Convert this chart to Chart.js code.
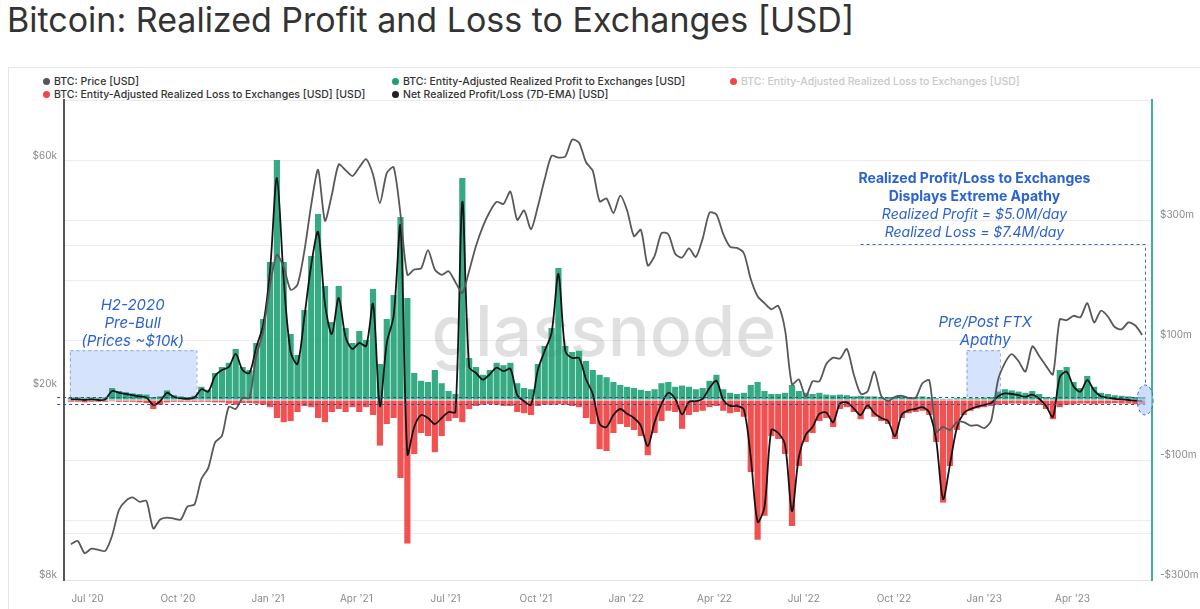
<!DOCTYPE html>
<html>
<head>
<meta charset="utf-8">
<script src="https://cdn.jsdelivr.net/npm/chart.js@4.4.0/dist/chart.umd.min.js"></script>
<style>
  body { margin:0; width:1200px; height:609px; background:#fff; overflow:hidden; position:relative; font-family:Inter, "Noto Sans", sans-serif; }
  #title { position:absolute; left:7px; top:0px; font-size:34px; line-height:40px; color:#333; white-space:nowrap; }
  #card { position:absolute; left:8px; top:67px; width:1300px; height:600px; border-left:1px solid #e6e6e6; border-top:1px solid #e6e6e6; }
  .lg { position:absolute; font-size:10.5px; font-weight:500; color:#333; white-space:nowrap; line-height:14px; }
  .lg i { display:inline-block; width:7px; height:7px; border-radius:50%; margin-right:4px; vertical-align:0px; }
  .lg.off { color:#c8c8c8; }
  canvas { position:absolute; left:0; top:0; }
</style>
</head>
<body>
<div id="title">Bitcoin: Realized Profit and Loss to Exchanges [USD]</div>
<div id="card"></div>
<div class="lg" style="left:43px;top:75px"><i style="background:#555"></i>BTC: Price [USD]</div>
<div class="lg" style="left:392px;top:75px"><i style="background:#1f9e76"></i>BTC: Entity-Adjusted Realized Profit to Exchanges [USD]</div>
<div class="lg off" style="left:730px;top:75px"><i style="background:#f04848"></i>BTC: Entity-Adjusted Realized Loss to Exchanges [USD]</div>
<div class="lg" style="left:43px;top:88px"><i style="background:#f04848"></i>BTC: Entity-Adjusted Realized Loss to Exchanges [USD] [USD]</div>
<div class="lg" style="left:392px;top:88px"><i style="background:#222"></i>Net Realized Profit/Loss (7D-EMA) [USD]</div>
<canvas id="c" width="1200" height="609"></canvas>
<script>
// weekly samples, first week starting 2020-06-14
const firstWeek = '2020-06-14';

// BTC price [USD]
const price = [
  9500, 9650, 9100, 9300, 9250, 9200, 9900, 11200, 11700, 11900,
  11650, 11700, 10250, 10700, 10800, 10750, 10700, 11400, 11500, 13000,
  13700, 15500, 16000, 18400, 18200, 19200, 19200, 23500, 26400, 33000,
  38200, 36000, 32300, 33100, 38900, 48600, 57500, 45000, 51000, 59000,
  57400, 55800, 58200, 60500, 56200, 49000, 56600, 58200, 46400, 34700,
  35600, 35800, 39100, 35600, 34700, 35300, 33500, 31800, 35400, 39900,
  43800, 47000, 49300, 48800, 51800, 45200, 47300, 43200, 48200, 55000,
  61500, 61000, 61300, 66500, 65500, 59700, 57200, 49400, 50100, 46700,
  50800, 47300, 41800, 43100, 36300, 38000, 42400, 42200, 38400, 37700,
  39400, 37800, 41300, 46800, 46400, 42200, 39700, 39500, 38500, 34000,
  31300, 30300, 29400, 29900, 26600, 20500, 21000, 19300, 20800, 20800,
  22600, 23300, 23200, 24300, 21500, 19600, 19800, 21800, 19400, 18900,
  19300, 19400, 19200, 19200, 20600, 20900, 16300, 16700, 16450, 17100,
  17100, 16800, 16850, 16600, 17200, 20900, 22700, 23700, 22900, 21800,
  24600, 23500, 22400, 21500, 28000, 27900, 28500, 28300, 30300, 27600,
  29200, 28400, 27000, 26700, 27600, 27200, 26000
];

// entity-adjusted realized profit to exchanges [USD m]
const profit = [
  4, 4, 3, 4, 3, 4, 20, 15, 13, 11,
  10, 9, 5, 6, 16, 8, 6, 5, 7, 22,
  17, 45, 55, 62, 85, 55, 50, 95, 135, 230,
  400, 230, 110, 75, 150, 240, 310, 190, 130, 190,
  120, 95, 115, 100, 185, 60, 135, 175, 305, 170,
  45, 32, 30, 50, 28, 15, 10, 370, 70, 55,
  42, 50, 62, 58, 62, 28, 20, 18, 60, 90,
  120, 220, 90, 80, 82, 65, 50, 42, 38, 30,
  25, 22, 20, 17, 15, 18, 28, 30, 22, 24,
  22, 18, 20, 32, 42, 18, 12, 10, 12, 25,
  30, 15, 10, 10, 12, 25, 15, 12, 10, 12,
  9, 8, 9, 8, 6, 7, 6, 6, 5, 5,
  5, 6, 5, 5, 6, 4, 3, 2, 2, 3,
  3, 3, 3, 4, 5, 14, 18, 16, 14, 12,
  15, 10, 5, 4, 50, 55, 30, 20, 40, 22,
  12, 10, 8, 7, 6, 5, 5
];

// entity-adjusted realized loss to exchanges [USD m], plotted negative
const loss = [
  -3, -3, -4, -3, -3, -3, -2, -3, -3, -3,
  -4, -5, -15, -8, -4, -3, -3, -3, -3, -3,
  -3, -4, -4, -6, -8, -5, -5, -6, -8, -12,
  -30, -37, -35, -20, -10, -12, -30, -37, -20, -15,
  -20, -12, -20, -12, -25, -76, -40, -30, -130, -239,
  -90, -55, -60, -87, -60, -35, -30, -37, -15, -10,
  -8, -7, -8, -10, -10, -20, -22, -25, -10, -8,
  -8, -7, -8, -10, -12, -30, -40, -82, -85, -55,
  -40, -45, -50, -60, -92, -55, -35, -18, -20, -48,
  -25, -20, -18, -12, -10, -18, -22, -20, -28, -120,
  -233, -193, -60, -65, -90, -210, -110, -70, -55, -35,
  -30, -45, -15, -12, -20, -32, -15, -28, -35, -40,
  -65, -30, -22, -20, -18, -25, -70, -171, -110, -50,
  -25, -18, -14, -12, -10, -8, -7, -6, -6, -7,
  -6, -8, -15, -32, -12, -8, -7, -6, -6, -7,
  -6, -6, -5, -6, -6, -7, -7
];

// net realized profit/loss (7D-EMA) [USD m]
const netEma = [
  1, 1, 0, 1, 0, 1, 15, 12, 10, 8,
  6, 4, -8, -2, 12, 5, 3, 2, 4, 18,
  14, 40, 50, 55, 77, 50, 45, 88, 125, 215,
  370, 200, 80, 60, 138, 225, 280, 160, 110, 170,
  105, 85, 95, 90, 160, -10, 95, 140, 290, -90,
  -45, -25, -30, -40, -30, -20, -20, 330, 55, 45,
  34, 43, 54, 48, 52, 8, -2, -8, 50, 82,
  112, 210, 82, 70, 70, 35, 10, -40, -45, -25,
  -15, -23, -30, -43, -77, -37, -7, 12, 2, -24,
  -3, -2, 2, 20, 32, 0, -10, -10, -16, -95,
  -203, -178, -50, -55, -75, -185, -95, -58, -45, -23,
  -21, -37, -6, -4, -14, -25, -9, -22, -30, -35,
  -60, -24, -17, -15, -12, -21, -67, -165, -108, -47,
  -22, -15, -11, -8, -5, 6, 11, 10, 8, 5,
  9, 2, -10, -28, 38, 47, 23, 14, 33, 16,
  6, 4, 2, 1, 0, -1, -2
];

const quarterDates = ['2020-07-01','2020-10-01','2021-01-01','2021-04-01','2021-07-01','2021-10-01',
                      '2022-01-01','2022-04-01','2022-07-01','2022-10-01','2023-01-01','2023-04-01'];
const quarterLabels = ["Jul '20","Oct '20","Jan '21","Apr '21","Jul '21","Oct '21",
                       "Jan '22","Apr '22","Jul '22","Oct '22","Jan '23","Apr '23"];
const priceTicks = [8000, 10000, 20000, 40000, 60000];
const priceTickLabels = { 8000: '$8k', 20000: '$20k', 60000: '$60k' };
const pnlTickLabels = { '300': '$300m', '100': '$100m', '-100': '-$100m', '-300': '-$300m' };

const avgProfit = 5.0;   // $M/day
const avgLoss = -7.4;    // $M/day

const dayOf = s => (Date.parse(s + 'T00:00:00Z') - Date.parse('2020-07-01T00:00:00Z')) / 864e5;
const weekX = price.map((_, i) => dayOf(firstWeek) + 7 * i);
const pts = arr => arr.map((v, i) => ({ x: weekX[i], y: v }));

// annotation placement, in (days from 2020-07-01, $m)
const boxes = [
  { x0: -18, x1: 111, y0: 5, y1: 83 },
  { x0: 896, x1: 930, y0: 5, y1: 83 }
];
const notes = [
  { t: 'H2-2020', x: 46, y: 157, f: 'italic 15px Inter' },
  { t: 'Pre-Bull', x: 46, y: 127, f: 'italic 15px Inter' },
  { t: '(Prices ~$10k)', x: 46, y: 97, f: 'italic 15px Inter' },
  { t: 'Pre/Post FTX', x: 915, y: 130, f: 'italic 15px Inter' },
  { t: 'Apathy', x: 915, y: 100, f: 'italic 15px Inter' },
  { t: 'Realized Profit/Loss to Exchanges', x: 904, y: 368, f: 'bold 14px Inter' },
  { t: 'Displays Extreme Apathy', x: 904, y: 338, f: 'bold 14px Inter' },
  { t: 'Realized Profit = $5.0M/day', x: 904, y: 308, f: 'italic 14px Inter' },
  { t: 'Realized Loss = $7.4M/day', x: 904, y: 278, f: 'italic 14px Inter' }
];
const callout = { x0: 788, x1: 1078, top: 260, bottom: 25 };

const blue = '#2a62d2';

const overlay = {
  id: 'overlay',
  beforeDatasetsDraw(chart) {
    const { ctx, scales: { x, y1 } } = chart;
    ctx.save();
    ctx.font = '500 70px Inter';
    ctx.fillStyle = 'rgba(0,0,0,0.12)';
    ctx.textAlign = 'center';
    ctx.textBaseline = 'alphabetic';
    ctx.fillText('glassnode', 604, 356);
    for (const b of boxes) {
      const l = x.getPixelForValue(b.x0), r = x.getPixelForValue(b.x1);
      const t = y1.getPixelForValue(b.y1), bt = y1.getPixelForValue(b.y0);
      ctx.fillStyle = 'rgba(190,212,250,0.65)';
      ctx.fillRect(l, t, r - l, bt - t);
      ctx.setLineDash([3, 3]);
      ctx.strokeStyle = 'rgba(110,150,225,0.8)';
      ctx.lineWidth = 1;
      ctx.strokeRect(l + 0.5, t + 0.5, r - l, bt - t);
    }
    ctx.restore();
  },
  afterDatasetsDraw(chart) {
    const { ctx, scales: { x, y1 } } = chart;
    ctx.save();
    ctx.strokeStyle = '#2c4f9e';
    ctx.lineWidth = 1.2;
    ctx.setLineDash([3, 3]);
    for (const v of [avgProfit, avgLoss]) {
      const py = Math.round(y1.getPixelForValue(v)) + 0.5;
      ctx.beginPath();
      ctx.moveTo(x.getPixelForValue(-31), py);
      ctx.lineTo(x.getPixelForValue(1078), py);
      ctx.stroke();
    }
    // callout frame
    ctx.strokeStyle = '#3a66c8';
    ctx.lineWidth = 1;
    const cl = x.getPixelForValue(callout.x0), cr = Math.round(x.getPixelForValue(callout.x1)) + 0.5;
    const ct = Math.round(y1.getPixelForValue(callout.top)) + 0.5, cb = y1.getPixelForValue(callout.bottom);
    ctx.beginPath();
    ctx.moveTo(cl, ct); ctx.lineTo(cr, ct); ctx.lineTo(cr, cb);
    ctx.stroke();
    // ellipse at the end
    const ex = x.getPixelForValue(callout.x1), ey = y1.getPixelForValue(0);
    ctx.beginPath();
    ctx.ellipse(ex, ey, 8, 15, 0, 0, Math.PI * 2);
    ctx.fillStyle = 'rgba(170,200,245,0.6)';
    ctx.fill();
    ctx.stroke();
    ctx.setLineDash([]);
    ctx.textAlign = 'center';
    ctx.textBaseline = 'middle';
    ctx.fillStyle = blue;
    for (const n of notes) {
      ctx.font = n.f;
      ctx.fillText(n.t, x.getPixelForValue(n.x), y1.getPixelForValue(n.y));
    }
    ctx.restore();
  }
};

Chart.defaults.font.family = 'Inter';

new Chart(document.getElementById('c'), {
  data: {
    datasets: [
      { type: 'line', label: 'BTC: Price [USD]', data: pts(price), yAxisID: 'y',
        borderColor: '#585858', borderWidth: 1.8, pointRadius: 0, tension: 0.25, order: 1 },
      { type: 'line', label: 'Net Realized Profit/Loss (7D-EMA) [USD]', data: pts(netEma), yAxisID: 'y1',
        borderColor: '#141414', borderWidth: 1.8, pointRadius: 0, tension: 0.3, order: 2 },
      { type: 'bar', label: 'BTC: Entity-Adjusted Realized Profit to Exchanges [USD]', data: pts(profit), yAxisID: 'y1',
        backgroundColor: 'rgba(26,158,114,0.88)', grouped: false, barPercentage: 0.9, categoryPercentage: 1, order: 3 },
      { type: 'bar', label: 'BTC: Entity-Adjusted Realized Loss to Exchanges [USD] [USD]', data: pts(loss), yAxisID: 'y1',
        backgroundColor: 'rgba(240,62,62,0.9)', grouped: false, barPercentage: 0.9, categoryPercentage: 1, order: 3 }
    ]
  },
  options: {
    responsive: false,
    animation: false,
    devicePixelRatio: 1,
    layout: { padding: { top: 100, left: 0, right: 0, bottom: 0 } },
    plugins: { legend: { display: false }, tooltip: { enabled: false } },
    scales: {
      x: {
        type: 'linear', offset: false, min: dayOf('2020-06-07'), max: dayOf('2023-06-21'),
        afterBuildTicks: s => { s.ticks = quarterDates.map(d => ({ value: dayOf(d) })); },
        afterFit: s => { s.height = 29; },
        ticks: {
          autoSkip: false, maxRotation: 0, padding: 5, color: '#8a8a8a', font: { size: 10 },
          callback: v => { const k = quarterDates.findIndex(d => dayOf(d) === v); return k < 0 ? '' : quarterLabels[k]; }
        },
        grid: { display: false, offset: false },
        border: { color: '#e4e4e4', width: 1 }
      },
      y: {
        type: 'logarithmic', position: 'left', min: 8000, max: 80440,
        afterBuildTicks: s => { s.ticks = priceTicks.map(v => ({ value: v })); },
        afterFit: s => { s.width = 64; },
        ticks: { padding: 7, labelOffset: -5, color: '#8a8a8a', font: { size: 10 },
          callback: v => priceTickLabels[v] || '' },
        grid: { drawTicks: false, color: c => (c.tick && (c.tick.value === 10000 || c.tick.value === 40000)) ? '#ececec' : 'rgba(0,0,0,0)' },
        border: { color: '#555', width: 2 }
      },
      y1: {
        type: 'linear', position: 'right', min: -300, max: 500,
        afterFit: s => { s.width = 48; },
        ticks: { stepSize: 100, padding: 8, labelOffset: -5, color: '#8a8a8a', font: { size: 10 },
          callback: v => pnlTickLabels[String(v)] || '' },
        grid: { drawTicks: false, color: c => (c.tick && c.tick.value === 0) ? 'rgba(0,0,0,0)' : '#ececec' },
        border: { color: '#3fb38f', width: 2 }
      }
    }
  },
  plugins: [overlay]
});
</script>
</body>
</html>
